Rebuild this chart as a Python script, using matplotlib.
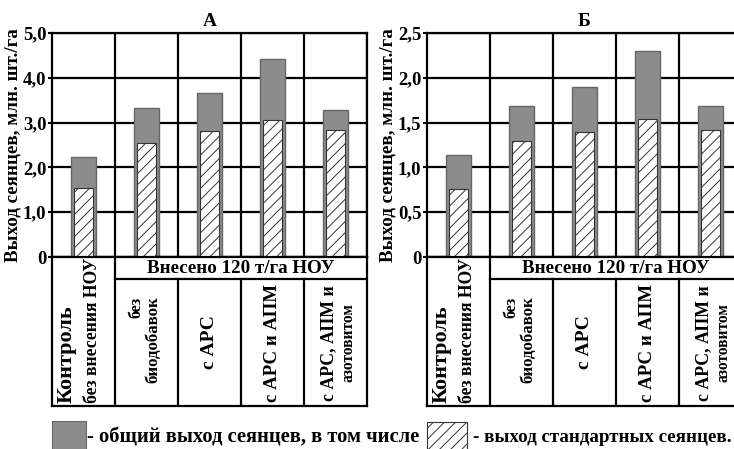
import numpy as np
import matplotlib
matplotlib.use('Agg')
import matplotlib.pyplot as plt
from matplotlib.patches import Rectangle

plt.rcParams['font.family'] = ['Liberation Serif', 'DejaVu Serif']
plt.rcParams['font.weight'] = 'bold'
plt.rcParams['hatch.linewidth'] = 0.7

# values, mln seedlings per ha
variants = [['Контроль', 'без внесения НОУ'], ['без', 'биодобавок'], ['с АРС'],
            ['с АРС и АПМ'], ['с АРС, АПМ и', 'азотовитом']]
total_a = [2.23, 3.33, 3.67, 4.42, 3.28]
standard_a = [1.54, 2.55, 2.81, 3.06, 2.83]
total_b = [1.14, 1.68, 1.90, 2.30, 1.68]
standard_b = [0.76, 1.29, 1.40, 1.54, 1.42]
ticks_a = [0, 1, 2, 3, 4, 5]
ticks_b = [0, 0.5, 1.0, 1.5, 2.0, 2.5]
tick_labels_a = ['0', '1,0', '2,0', '3,0', '4,0', '5,0']
tick_labels_b = ['0', '0,5', '1,0', '1,5', '2,0', '2,5']
panels = ['А', 'Б']
fertilized = 'Внесено 120 т/га НОУ'
legend_total = '- общий выход сеянцев, в том числе'
legend_std = '- выход стандартных сеянцев.'
ylabel = 'Выход сеянцев, млн. шт./га'

W, H = 734, 449
fig = plt.figure(figsize=(W / 100, H / 100), dpi=100)


def fbox(x0, y0, x1, y1):
    # pixel box (top-left origin) -> figure fraction rect
    return [x0 / W, 1 - y1 / H, (x1 - x0) / W, (y1 - y0) / H]


gray = '#8c8c8c'
edge = '#666666'
x = np.arange(len(variants))

# where each line of the column captions sits: (x offset, y, va, size)
line_pos = [
    [(-0.262, 0.02, 'bottom', 16), (0.135, 0.02, 'bottom', 12.7)],
    [(0.84, 0.732, 'top', 11.5), (1.11, 0.443, 'center', 12.2)],
    [(2.0, 0.43, 'center', 14)],
    [(3.0, 0.426, 'center', 13.6)],
    [(3.9, 0.423, 'center', 12.8), (4.2, 0.423, 'center', 11.2)],
]

for left, right, title, tot, std, ticks, tlabels in [
        (52, 367, panels[0], total_a, standard_a, ticks_a, tick_labels_a),
        (427, 742, panels[1], total_b, standard_b, ticks_b, tick_labels_b)]:
    ax = fig.add_axes(fbox(left, 33, right, 257))
    ax.set_axisbelow(True)
    ax.bar(x, tot, width=0.41, color=gray, edgecolor=edge, linewidth=1.0, zorder=2)
    ax.bar(x, std, width=0.30, color='white', edgecolor='#333333', linewidth=0.8,
           hatch='///', zorder=3)
    ax.set_xlim(-0.5, 4.5)
    ax.set_ylim(0, ticks[-1])
    ax.set_yticks(ticks)
    ax.set_yticklabels(tlabels, fontsize=13.5, fontweight='bold')
    ax.set_xticks(x + 0.5)
    ax.tick_params(axis='x', length=0, labelbottom=False)
    ax.tick_params(axis='y', length=3, width=1.5, pad=1)
    ax.grid(True, color='black', linewidth=1.6)
    for s in ax.spines.values():
        s.set_linewidth(1.6)
    ax.set_title(title, fontsize=14, fontweight='bold', pad=5)
    ax.set_ylabel(ylabel, fontsize=13.7, fontweight='bold', labelpad=1)

    # category table below the bars
    tb = fig.add_axes(fbox(left, 257, right, 406))
    tb.set_xlim(-0.5, 4.5)
    tb.set_ylim(0, 1)
    tb.set_xticks([])
    tb.set_yticks([])
    for s in tb.spines.values():
        s.set_linewidth(1.6)
    row = 0.852
    tb.plot([0.5, 4.5], [row, row], color='black', lw=1.6)
    tb.plot([0.5, 0.5], [0, 1], color='black', lw=1.6)
    for k in range(1, 4):
        tb.plot([k + 0.5, k + 0.5], [0, row], color='black', lw=1.6)
    tb.text(2.5, (1 + row) / 2, fertilized, ha='center', va='center',
            fontsize=13.7, fontweight='bold')
    for lines, pos in zip(variants, line_pos):
        for txt, (xp, yp, va, fs) in zip(lines, pos):
            tb.text(xp, yp, txt, rotation=90, ha='center', va=va,
                    fontsize=fs, fontweight='bold')

# legend
fig.patches.append(Rectangle((52 / W, 1 - 460 / H), 34 / W, 39 / H,
                             transform=fig.transFigure, facecolor=gray,
                             edgecolor=edge, lw=0.8))
fig.text(87 / W, 1 - 437 / H, legend_total, ha='left', va='center',
         fontsize=14.8, fontweight='bold')
fig.patches.append(Rectangle((427 / W, 1 - 460 / H), 40 / W, 38 / H,
                             transform=fig.transFigure, facecolor='white',
                             edgecolor='#333333', lw=0.8, hatch='///'))
fig.text(473 / W, 1 - 437 / H, legend_std, ha='left', va='center',
         fontsize=13.7, fontweight='bold')

fig.savefig('out.png', dpi=100)
